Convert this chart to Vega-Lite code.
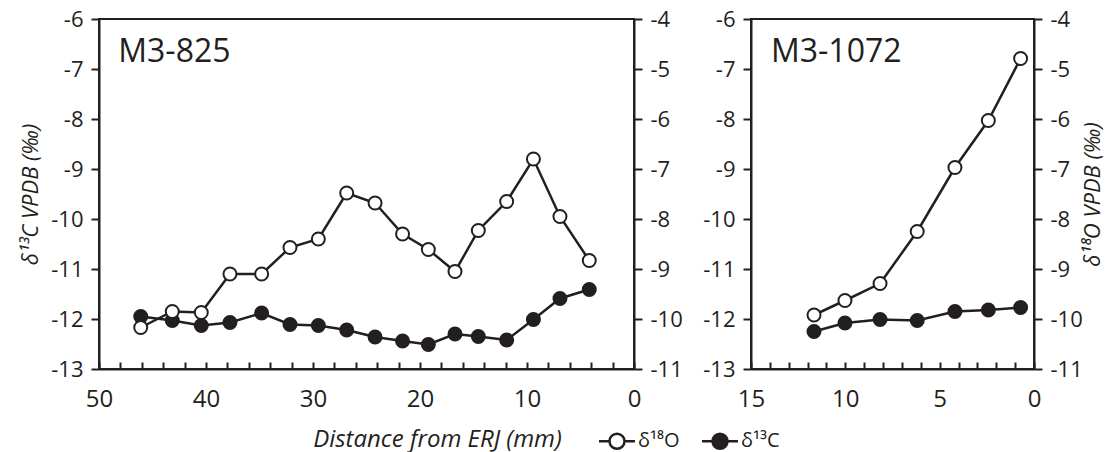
{
  "$schema": "https://vega.github.io/schema/vega-lite/v6.json",
  "background": "white",
  "padding": {"left": 18, "top": 7, "right": 3, "bottom": 0},
  "datasets": {
    "m825": [
      {"dist": 46.1, "series": "δ¹⁸O", "value": -10.17},
      {"dist": 43.15, "series": "δ¹⁸O", "value": -9.85},
      {"dist": 40.44, "series": "δ¹⁸O", "value": -9.87},
      {"dist": 37.76, "series": "δ¹⁸O", "value": -9.1},
      {"dist": 34.8, "series": "δ¹⁸O", "value": -9.1},
      {"dist": 32.15, "series": "δ¹⁸O", "value": -8.57},
      {"dist": 29.5, "series": "δ¹⁸O", "value": -8.4},
      {"dist": 26.85, "series": "δ¹⁸O", "value": -7.48},
      {"dist": 24.2, "series": "δ¹⁸O", "value": -7.68},
      {"dist": 21.63, "series": "δ¹⁸O", "value": -8.3},
      {"dist": 19.22, "series": "δ¹⁸O", "value": -8.61},
      {"dist": 16.73, "series": "δ¹⁸O", "value": -9.05},
      {"dist": 14.55, "series": "δ¹⁸O", "value": -8.23},
      {"dist": 11.9, "series": "δ¹⁸O", "value": -7.65},
      {"dist": 9.4, "series": "δ¹⁸O", "value": -6.8},
      {"dist": 6.92, "series": "δ¹⁸O", "value": -7.95},
      {"dist": 4.18, "series": "δ¹⁸O", "value": -8.83},
      {"dist": 46.1, "series": "δ¹³C", "value": -11.95},
      {"dist": 43.15, "series": "δ¹³C", "value": -12.03},
      {"dist": 40.44, "series": "δ¹³C", "value": -12.13},
      {"dist": 37.76, "series": "δ¹³C", "value": -12.07},
      {"dist": 34.8, "series": "δ¹³C", "value": -11.88},
      {"dist": 32.15, "series": "δ¹³C", "value": -12.11},
      {"dist": 29.5, "series": "δ¹³C", "value": -12.13},
      {"dist": 26.85, "series": "δ¹³C", "value": -12.22},
      {"dist": 24.2, "series": "δ¹³C", "value": -12.36},
      {"dist": 21.63, "series": "δ¹³C", "value": -12.44},
      {"dist": 19.22, "series": "δ¹³C", "value": -12.51},
      {"dist": 16.73, "series": "δ¹³C", "value": -12.3},
      {"dist": 14.55, "series": "δ¹³C", "value": -12.35},
      {"dist": 11.9, "series": "δ¹³C", "value": -12.42},
      {"dist": 9.4, "series": "δ¹³C", "value": -12.01},
      {"dist": 6.92, "series": "δ¹³C", "value": -11.59},
      {"dist": 4.18, "series": "δ¹³C", "value": -11.41}
    ],
    "m1072": [
      {"dist": 11.66, "series": "δ¹⁸O", "value": -9.92},
      {"dist": 10.02, "series": "δ¹⁸O", "value": -9.63},
      {"dist": 8.16, "series": "δ¹⁸O", "value": -9.29},
      {"dist": 6.19, "series": "δ¹⁸O", "value": -8.25},
      {"dist": 4.19, "series": "δ¹⁸O", "value": -6.97},
      {"dist": 2.42, "series": "δ¹⁸O", "value": -6.03},
      {"dist": 0.71, "series": "δ¹⁸O", "value": -4.79},
      {"dist": 11.66, "series": "δ¹³C", "value": -12.25},
      {"dist": 10.02, "series": "δ¹³C", "value": -12.08},
      {"dist": 8.16, "series": "δ¹³C", "value": -12.01},
      {"dist": 6.19, "series": "δ¹³C", "value": -12.03},
      {"dist": 4.19, "series": "δ¹³C", "value": -11.85},
      {"dist": 2.42, "series": "δ¹³C", "value": -11.82},
      {"dist": 0.71, "series": "δ¹³C", "value": -11.77}
    ],
    "lab825": [{"dist": 48.2, "value": -6.66, "label": "M3-825"}],
    "lab1072": [{"dist": 13.94, "value": -6.66, "label": "M3-1072"}]
  },
  "config": {
    "font": "Open Sans",
    "view": {"stroke": "#231f20", "strokeWidth": 2},
    "axis": {
      "grid": false,
      "domainColor": "#231f20", "domainWidth": 2,
      "tickColor": "#231f20", "tickWidth": 2,
      "labelColor": "#231f20", "labelFont": "Open Sans", "labelFontSize": 22,
      "titleFont": "Open Sans", "titleColor": "#231f20", "titleFontSize": 22,
      "titleFontWeight": "normal", "titleFontStyle": "italic",
      "labelOverlap": false, "labelFlush": false, "labelBound": false
    }
  },
  "spacing": 117,
  "bounds": "flush",
  "resolve": {"scale": {"fill": "shared"}, "legend": {"fill": "shared"}},
  "hconcat": [
    {
      "width": 535, "height": 350,
      "encoding": {
        "x": {"field": "dist", "type": "quantitative",
          "scale": {"domain": [0, 50], "reverse": true, "nice": false, "zero": false},
          "axis": {"values": [0,2,4,6,8,10,12,14,16,18,20,22,24,26,28,30,32,34,36,38,40,42,44,46,48,50],
            "labelExpr": "datum.value % 10 === 0 ? datum.label : ''",
            "tickSize": -7, "labelPadding": 25, "labelFontSize": 24,
            "title": "Distance from ERJ (mm)", "titleFontSize": 24,
            "titleX": 338, "titleY": 70, "titleBaseline": "middle", "titleAlign": "center"}}
      },
      "layer": [
        {
          "encoding": {"y": {"field": "value", "type": "quantitative",
            "scale": {"domain": [-13, -6], "nice": false, "zero": false},
            "axis": {"orient": "left", "values": [-13,-12,-11,-10,-9,-8,-7,-6], "tickSize": 8, "labelPadding": 8,
              "labelExpr": "toString(datum.value)",
              "title": "δ¹³C VPDB (‰)", "titlePadding": 8}}},
          "layer": [
            {"data": {"name": "m825"}, "transform": [{"filter": "datum.series === 'δ¹³C'"}],
             "mark": {"type": "line", "color": "#231f20", "strokeWidth": 2.5}},
            {"data": {"name": "m825"}, "transform": [{"filter": "datum.series === 'δ¹³C'"}],
             "mark": {"type": "point", "shape": "circle", "size": 169, "filled": true, "stroke": "#231f20", "strokeWidth": 2, "opacity": 1},
             "encoding": {"fill": {"field": "series", "type": "nominal",
               "scale": {"domain": ["δ¹⁸O", "δ¹³C"], "range": ["white", "#231f20"]},
               "legend": {"title": null, "orient": "none", "legendX": 508, "legendY": 412, "direction": "horizontal",
                 "symbolType": "M-2.4,0L-1,0M1,0L2.4,0M1,0A1,1,0,1,1,-1,0A1,1,0,1,1,1,0Z",
                 "symbolSize": 225, "symbolStrokeColor": "#231f20", "symbolStrokeWidth": 2.5, "symbolOpacity": 1,
                 "labelFontSize": 20, "labelOffset": 11, "columnPadding": 17, "labelColor": "#231f20", "labelFont": "Open Sans"}}}},
            {"data": {"name": "lab825"},
             "mark": {"type": "text", "align": "left", "baseline": "middle", "fontSize": 32, "color": "#231f20"},
             "encoding": {"text": {"field": "label"}}}
          ]
        },
        {
          "encoding": {"y": {"field": "value", "type": "quantitative",
            "scale": {"domain": [-11, -4], "nice": false, "zero": false},
            "axis": {"orient": "right", "values": [-11,-10,-9,-8,-7,-6,-5,-4], "tickSize": 8, "labelPadding": 8,
              "labelExpr": "toString(datum.value)", "title": null}}},
          "layer": [
            {"data": {"name": "m825"}, "transform": [{"filter": "datum.series === 'δ¹⁸O'"}],
             "mark": {"type": "line", "color": "#231f20", "strokeWidth": 2.5}},
            {"data": {"name": "m825"}, "transform": [{"filter": "datum.series === 'δ¹⁸O'"}],
             "mark": {"type": "point", "shape": "circle", "size": 169, "filled": true, "stroke": "#231f20", "strokeWidth": 2, "opacity": 1},
             "encoding": {"fill": {"field": "series", "type": "nominal",
               "scale": {"domain": ["δ¹⁸O", "δ¹³C"], "range": ["white", "#231f20"]},
               "legend": {"title": null, "orient": "none", "legendX": 508, "legendY": 412, "direction": "horizontal",
                 "symbolType": "M-2.4,0L-1,0M1,0L2.4,0M1,0A1,1,0,1,1,-1,0A1,1,0,1,1,1,0Z",
                 "symbolSize": 225, "symbolStrokeColor": "#231f20", "symbolStrokeWidth": 2.5, "symbolOpacity": 1,
                 "labelFontSize": 20, "labelOffset": 11, "columnPadding": 17, "labelColor": "#231f20", "labelFont": "Open Sans"}}}}
          ]
        }
      ],
      "resolve": {"scale": {"y": "independent"}}
    },
    {
      "width": 283, "height": 350,
      "encoding": {
        "x": {"field": "dist", "type": "quantitative",
          "scale": {"domain": [0, 15], "reverse": true, "nice": false, "zero": false},
          "axis": {"values": [0,1,2,3,4,5,6,7,8,9,10,11,12,13,14,15],
            "labelExpr": "datum.value % 5 === 0 ? datum.label : ''",
            "tickSize": -7, "labelPadding": 25, "labelFontSize": 24, "title": null}}
      },
      "layer": [
        {
          "encoding": {"y": {"field": "value", "type": "quantitative",
            "scale": {"domain": [-13, -6], "nice": false, "zero": false},
            "axis": {"orient": "left", "values": [-13,-12,-11,-10,-9,-8,-7,-6], "tickSize": 8, "labelPadding": 8,
              "labelExpr": "toString(datum.value)", "title": null}}},
          "layer": [
            {"data": {"name": "m1072"}, "transform": [{"filter": "datum.series === 'δ¹³C'"}],
             "mark": {"type": "line", "color": "#231f20", "strokeWidth": 2.5}},
            {"data": {"name": "m1072"}, "transform": [{"filter": "datum.series === 'δ¹³C'"}],
             "mark": {"type": "point", "shape": "circle", "size": 169, "filled": true, "stroke": "#231f20", "strokeWidth": 2, "opacity": 1},
             "encoding": {"fill": {"field": "series", "type": "nominal",
               "scale": {"domain": ["δ¹⁸O", "δ¹³C"], "range": ["white", "#231f20"]},
               "legend": {"title": null, "orient": "none", "legendX": 508, "legendY": 412, "direction": "horizontal",
                 "symbolType": "M-2.4,0L-1,0M1,0L2.4,0M1,0A1,1,0,1,1,-1,0A1,1,0,1,1,1,0Z",
                 "symbolSize": 225, "symbolStrokeColor": "#231f20", "symbolStrokeWidth": 2.5, "symbolOpacity": 1,
                 "labelFontSize": 20, "labelOffset": 11, "columnPadding": 17, "labelColor": "#231f20", "labelFont": "Open Sans"}}}},
            {"data": {"name": "lab1072"},
             "mark": {"type": "text", "align": "left", "baseline": "middle", "fontSize": 32, "color": "#231f20"},
             "encoding": {"text": {"field": "label"}}}
          ]
        },
        {
          "encoding": {"y": {"field": "value", "type": "quantitative",
            "scale": {"domain": [-11, -4], "nice": false, "zero": false},
            "axis": {"orient": "right", "values": [-11,-10,-9,-8,-7,-6,-5,-4], "tickSize": 8, "labelPadding": 8,
              "labelExpr": "toString(datum.value)",
              "title": "δ¹⁸O VPDB (‰)", "titleAngle": -90, "titlePadding": 22}}},
          "layer": [
            {"data": {"name": "m1072"}, "transform": [{"filter": "datum.series === 'δ¹⁸O'"}],
             "mark": {"type": "line", "color": "#231f20", "strokeWidth": 2.5}},
            {"data": {"name": "m1072"}, "transform": [{"filter": "datum.series === 'δ¹⁸O'"}],
             "mark": {"type": "point", "shape": "circle", "size": 169, "filled": true, "stroke": "#231f20", "strokeWidth": 2, "opacity": 1},
             "encoding": {"fill": {"field": "series", "type": "nominal",
               "scale": {"domain": ["δ¹⁸O", "δ¹³C"], "range": ["white", "#231f20"]},
               "legend": {"title": null, "orient": "none", "legendX": 508, "legendY": 412, "direction": "horizontal",
                 "symbolType": "M-2.4,0L-1,0M1,0L2.4,0M1,0A1,1,0,1,1,-1,0A1,1,0,1,1,1,0Z",
                 "symbolSize": 225, "symbolStrokeColor": "#231f20", "symbolStrokeWidth": 2.5, "symbolOpacity": 1,
                 "labelFontSize": 20, "labelOffset": 11, "columnPadding": 17, "labelColor": "#231f20", "labelFont": "Open Sans"}}}}
          ]
        }
      ],
      "resolve": {"scale": {"y": "independent"}}
    }
  ]
}
